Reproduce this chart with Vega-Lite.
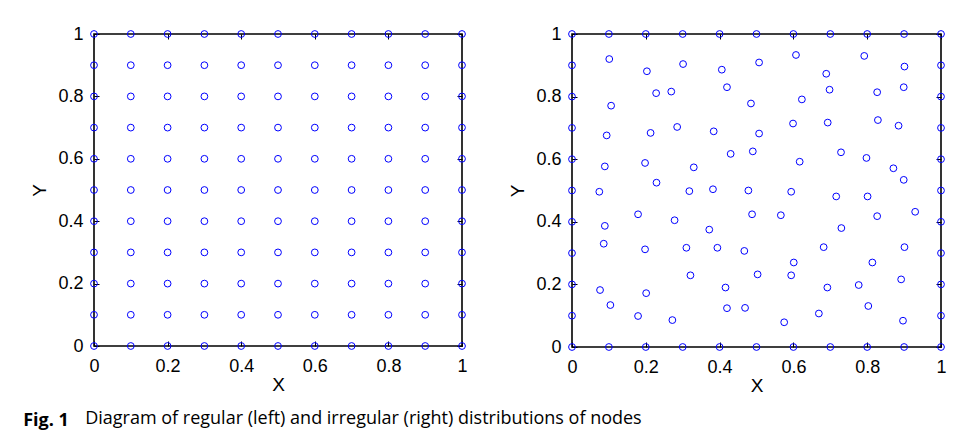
{
  "$schema": "https://vega.github.io/schema/vega-lite/v6.json",
  "background": "white",
  "padding": {"left": 23, "top": 24, "right": 10, "bottom": 8},
  "title": {"text": "Fig. 1", "orient": "bottom", "anchor": "start", "frame": "bounds", "font": "Open Sans", "fontSize": 18, "fontWeight": "bold", "color": "#000000", "dx": -7, "dy": -16, "offset": 0},
  "datasets": {
    "regular": [
      {"x":0,"y":0},{"x":0,"y":0.1},{"x":0,"y":0.2},{"x":0,"y":0.3},{"x":0,"y":0.4},{"x":0,"y":0.5},{"x":0,"y":0.6},{"x":0,"y":0.7},{"x":0,"y":0.8},{"x":0,"y":0.9},{"x":0,"y":1},
      {"x":0.1,"y":0},{"x":0.1,"y":0.1},{"x":0.1,"y":0.2},{"x":0.1,"y":0.3},{"x":0.1,"y":0.4},{"x":0.1,"y":0.5},{"x":0.1,"y":0.6},{"x":0.1,"y":0.7},{"x":0.1,"y":0.8},{"x":0.1,"y":0.9},{"x":0.1,"y":1},
      {"x":0.2,"y":0},{"x":0.2,"y":0.1},{"x":0.2,"y":0.2},{"x":0.2,"y":0.3},{"x":0.2,"y":0.4},{"x":0.2,"y":0.5},{"x":0.2,"y":0.6},{"x":0.2,"y":0.7},{"x":0.2,"y":0.8},{"x":0.2,"y":0.9},{"x":0.2,"y":1},
      {"x":0.3,"y":0},{"x":0.3,"y":0.1},{"x":0.3,"y":0.2},{"x":0.3,"y":0.3},{"x":0.3,"y":0.4},{"x":0.3,"y":0.5},{"x":0.3,"y":0.6},{"x":0.3,"y":0.7},{"x":0.3,"y":0.8},{"x":0.3,"y":0.9},{"x":0.3,"y":1},
      {"x":0.4,"y":0},{"x":0.4,"y":0.1},{"x":0.4,"y":0.2},{"x":0.4,"y":0.3},{"x":0.4,"y":0.4},{"x":0.4,"y":0.5},{"x":0.4,"y":0.6},{"x":0.4,"y":0.7},{"x":0.4,"y":0.8},{"x":0.4,"y":0.9},{"x":0.4,"y":1},
      {"x":0.5,"y":0},{"x":0.5,"y":0.1},{"x":0.5,"y":0.2},{"x":0.5,"y":0.3},{"x":0.5,"y":0.4},{"x":0.5,"y":0.5},{"x":0.5,"y":0.6},{"x":0.5,"y":0.7},{"x":0.5,"y":0.8},{"x":0.5,"y":0.9},{"x":0.5,"y":1},
      {"x":0.6,"y":0},{"x":0.6,"y":0.1},{"x":0.6,"y":0.2},{"x":0.6,"y":0.3},{"x":0.6,"y":0.4},{"x":0.6,"y":0.5},{"x":0.6,"y":0.6},{"x":0.6,"y":0.7},{"x":0.6,"y":0.8},{"x":0.6,"y":0.9},{"x":0.6,"y":1},
      {"x":0.7,"y":0},{"x":0.7,"y":0.1},{"x":0.7,"y":0.2},{"x":0.7,"y":0.3},{"x":0.7,"y":0.4},{"x":0.7,"y":0.5},{"x":0.7,"y":0.6},{"x":0.7,"y":0.7},{"x":0.7,"y":0.8},{"x":0.7,"y":0.9},{"x":0.7,"y":1},
      {"x":0.8,"y":0},{"x":0.8,"y":0.1},{"x":0.8,"y":0.2},{"x":0.8,"y":0.3},{"x":0.8,"y":0.4},{"x":0.8,"y":0.5},{"x":0.8,"y":0.6},{"x":0.8,"y":0.7},{"x":0.8,"y":0.8},{"x":0.8,"y":0.9},{"x":0.8,"y":1},
      {"x":0.9,"y":0},{"x":0.9,"y":0.1},{"x":0.9,"y":0.2},{"x":0.9,"y":0.3},{"x":0.9,"y":0.4},{"x":0.9,"y":0.5},{"x":0.9,"y":0.6},{"x":0.9,"y":0.7},{"x":0.9,"y":0.8},{"x":0.9,"y":0.9},{"x":0.9,"y":1},
      {"x":1,"y":0},{"x":1,"y":0.1},{"x":1,"y":0.2},{"x":1,"y":0.3},{"x":1,"y":0.4},{"x":1,"y":0.5},{"x":1,"y":0.6},{"x":1,"y":0.7},{"x":1,"y":0.8},{"x":1,"y":0.9},{"x":1,"y":1}
    ],
    "irregular": [
      {"x":0,"y":0},{"x":0.1,"y":0},{"x":0.2,"y":0},{"x":0.3,"y":0},{"x":0.4,"y":0},{"x":0.5,"y":0},{"x":0.6,"y":0},{"x":0.7,"y":0},{"x":0.8,"y":0},{"x":0.9,"y":0},{"x":1,"y":0},
      {"x":0,"y":1},{"x":0.1,"y":1},{"x":0.2,"y":1},{"x":0.3,"y":1},{"x":0.4,"y":1},{"x":0.5,"y":1},{"x":0.6,"y":1},{"x":0.7,"y":1},{"x":0.8,"y":1},{"x":0.9,"y":1},{"x":1,"y":1},
      {"x":0,"y":0.1},{"x":0,"y":0.2},{"x":0,"y":0.3},{"x":0,"y":0.4},{"x":0,"y":0.5},{"x":0,"y":0.6},{"x":0,"y":0.7},{"x":0,"y":0.8},{"x":0,"y":0.9},
      {"x":1,"y":0.1},{"x":1,"y":0.2},{"x":1,"y":0.3},{"x":1,"y":0.4},{"x":1,"y":0.5},{"x":1,"y":0.6},{"x":1,"y":0.7},{"x":1,"y":0.8},{"x":1,"y":0.9},
      {"x":0.101,"y":0.920},{"x":0.203,"y":0.881},{"x":0.301,"y":0.904},{"x":0.406,"y":0.886},{"x":0.507,"y":0.909},
      {"x":0.228,"y":0.811},{"x":0.269,"y":0.816},{"x":0.420,"y":0.830},{"x":0.106,"y":0.771},{"x":0.485,"y":0.778},
      {"x":0.094,"y":0.676},{"x":0.213,"y":0.684},{"x":0.285,"y":0.703},{"x":0.384,"y":0.689},{"x":0.507,"y":0.682},
      {"x":0.430,"y":0.617},{"x":0.490,"y":0.625},{"x":0.089,"y":0.577},{"x":0.198,"y":0.588},{"x":0.330,"y":0.574},
      {"x":0.074,"y":0.496},{"x":0.229,"y":0.525},{"x":0.318,"y":0.498},{"x":0.382,"y":0.504},{"x":0.478,"y":0.500},
      {"x":0.607,"y":0.933},{"x":0.792,"y":0.930},{"x":0.901,"y":0.896},{"x":0.689,"y":0.873},{"x":0.698,"y":0.822},
      {"x":0.899,"y":0.830},{"x":0.827,"y":0.814},{"x":0.623,"y":0.791},{"x":0.599,"y":0.714},{"x":0.693,"y":0.717},
      {"x":0.829,"y":0.725},{"x":0.885,"y":0.707},{"x":0.729,"y":0.622},{"x":0.617,"y":0.592},{"x":0.798,"y":0.604},
      {"x":0.871,"y":0.571},{"x":0.899,"y":0.534},{"x":0.594,"y":0.496},
      {"x":0.716,"y":0.481},{"x":0.801,"y":0.481},{"x":0.930,"y":0.432},{"x":0.488,"y":0.424},{"x":0.566,"y":0.421},
      {"x":0.827,"y":0.418},{"x":0.730,"y":0.380},{"x":0.682,"y":0.319},{"x":0.901,"y":0.319},{"x":0.601,"y":0.270},
      {"x":0.814,"y":0.270},{"x":0.503,"y":0.232},{"x":0.594,"y":0.229},{"x":0.892,"y":0.216},{"x":0.692,"y":0.190},
      {"x":0.777,"y":0.198},{"x":0.803,"y":0.131},{"x":0.669,"y":0.107},{"x":0.575,"y":0.079},{"x":0.897,"y":0.084},
      {"x":0.179,"y":0.424},{"x":0.278,"y":0.405},{"x":0.089,"y":0.387},{"x":0.372,"y":0.375},{"x":0.086,"y":0.330},
      {"x":0.198,"y":0.312},{"x":0.310,"y":0.317},{"x":0.394,"y":0.317},{"x":0.467,"y":0.307},{"x":0.321,"y":0.229},
      {"x":0.076,"y":0.182},{"x":0.201,"y":0.172},{"x":0.416,"y":0.190},{"x":0.104,"y":0.134},{"x":0.179,"y":0.099},
      {"x":0.272,"y":0.086},{"x":0.420,"y":0.124},{"x":0.469,"y":0.125}
    ]
  },
  "vconcat": [
    {
      "title": {"text": "Diagram of regular (left) and irregular (right) distributions of nodes", "orient": "bottom", "anchor": "start", "frame": "bounds", "font": "Open Sans", "fontSize": 18, "fontWeight": "normal", "color": "#000000", "dx": 55, "offset": 14},
      "hconcat": [
        {
          "width": 368,
          "height": 312,
          "data": {"name": "regular"},
          "layer": [
            {
              "mark": {"type": "point", "shape": "circle", "filled": false, "color": "#0000ff", "size": 46, "strokeWidth": 1, "opacity": 1, "clip": false},
              "encoding": {
                "x": {"field": "x", "type": "quantitative", "title": "X", "scale": {"domain": [0, 1], "nice": false, "zero": false}, "axis": {"orient": "bottom", "values": [0, 0.2, 0.4, 0.6, 0.8, 1]}},
                "y": {"field": "y", "type": "quantitative", "title": "Y", "scale": {"domain": [0, 1], "nice": false, "zero": false}, "axis": {"orient": "left", "values": [0, 0.2, 0.4, 0.6, 0.8, 1]}}
              }
            },
            {
              "mark": {"type": "point", "opacity": 0},
              "encoding": {
                "x": {"field": "x", "type": "quantitative", "title": null, "axis": {"orient": "top", "labels": false, "values": [0, 0.2, 0.4, 0.6, 0.8, 1]}},
                "y": {"field": "y", "type": "quantitative", "title": null, "axis": {"orient": "right", "labels": false, "values": [0, 0.2, 0.4, 0.6, 0.8, 1]}}
              }
            }
          ],
          "resolve": {"axis": {"x": "independent", "y": "independent"}}
        },
        {
          "width": 369,
          "height": 313,
          "data": {"name": "irregular"},
          "layer": [
            {
              "mark": {"type": "point", "shape": "circle", "filled": false, "color": "#0000ff", "size": 46, "strokeWidth": 1, "opacity": 1, "clip": false},
              "encoding": {
                "x": {"field": "x", "type": "quantitative", "title": "X", "scale": {"domain": [0, 1], "nice": false, "zero": false}, "axis": {"orient": "bottom", "values": [0, 0.2, 0.4, 0.6, 0.8, 1]}},
                "y": {"field": "y", "type": "quantitative", "title": "Y", "scale": {"domain": [0, 1], "nice": false, "zero": false}, "axis": {"orient": "left", "values": [0, 0.2, 0.4, 0.6, 0.8, 1]}}
              }
            },
            {
              "mark": {"type": "point", "opacity": 0},
              "encoding": {
                "x": {"field": "x", "type": "quantitative", "title": null, "axis": {"orient": "top", "labels": false, "values": [0, 0.2, 0.4, 0.6, 0.8, 1]}},
                "y": {"field": "y", "type": "quantitative", "title": null, "axis": {"orient": "right", "labels": false, "values": [0, 0.2, 0.4, 0.6, 0.8, 1]}}
              }
            }
          ],
          "resolve": {"axis": {"x": "independent", "y": "independent"}}
        }
      ],
      "spacing": 39
    }
  ],
  "config": {
    "view": {"stroke": "#000000", "strokeWidth": 1.6},
    "axis": {
      "domain": false,
      "grid": false,
      "ticks": true,
      "tickSize": -5,
      "tickColor": "#000000",
      "tickWidth": 1,
      "labelFont": "Liberation Sans",
      "labelFontSize": 18,
      "labelColor": "#000000",
      "labelFlush": false,
      "labelOverlap": false,
      "format": "~g",
      "titleFont": "Liberation Sans",
      "titleFontSize": 19,
      "titleFontWeight": "normal",
      "titleColor": "#000000"
    },
    "axisX": {"labelPadding": 16, "titlePadding": 0},
    "axisY": {"labelPadding": 16, "titlePadding": 8}
  }
}
